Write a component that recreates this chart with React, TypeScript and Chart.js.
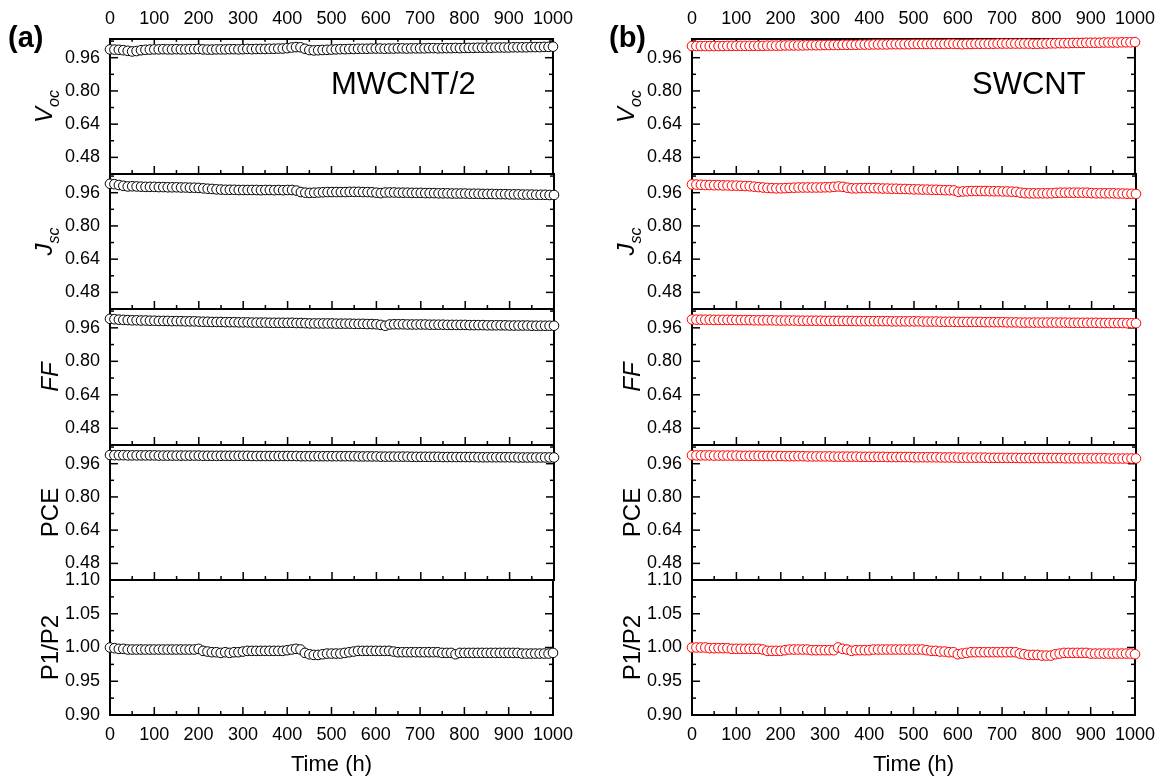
import React, { useEffect, useRef } from "react";
import { Chart, registerables } from "chart.js";
Chart.register(...registerables);

const TIME = [
  0, 10, 20, 30, 40, 50, 60, 70, 80, 90, 100, 110, 120, 130, 140, 150, 160, 170, 180, 190,
  200, 210, 220, 230, 240, 250, 260, 270, 280, 290, 300, 310, 320, 330, 340, 350, 360, 370, 380, 390,
  400, 410, 420, 430, 440, 450, 460, 470, 480, 490, 500, 510, 520, 530, 540, 550, 560, 570, 580, 590,
  600, 610, 620, 630, 640, 650, 660, 670, 680, 690, 700, 710, 720, 730, 740, 750, 760, 770, 780, 790,
  800, 810, 820, 830, 840, 850, 860, 870, 880, 890, 900, 910, 920, 930, 940, 950, 960, 970, 980, 990, 1000,
];

const X_MAJOR = [0, 100, 200, 300, 400, 500, 600, 700, 800, 900, 1000];
const X_MINOR = [50, 150, 250, 350, 450, 550, 650, 750, 850, 950];
const Y_MAJOR = [0.48, 0.64, 0.8, 0.96];
const Y_MINOR = [0.4, 0.56, 0.72, 0.88, 1.04];
const R_MAJOR = [0.9, 0.95, 1.0, 1.05, 1.1];
const R_MINOR = [0.925, 0.975, 1.025, 1.075];

const MW_VOC = [
  1.000, 0.999, 0.998, 0.996, 0.993, 0.990, 0.992, 0.996, 0.998, 0.999,
  1.000, 1.000, 1.001, 1.000, 1.000, 1.001, 1.000, 1.000, 1.001, 1.001,
  1.002, 1.000, 0.999, 0.999, 1.000, 1.000, 1.000, 1.001, 1.001, 1.000,
  1.001, 1.002, 1.001, 1.002, 1.002, 1.002, 1.003, 1.003, 1.004, 1.004,
  1.006, 1.009, 1.011, 1.010, 1.003, 0.997, 0.995, 0.996, 0.997, 0.998,
  0.999, 1.000, 1.001, 1.001, 1.002, 1.002, 1.003, 1.003, 1.003, 1.004,
  1.004, 1.004, 1.003, 1.004, 1.004, 1.005, 1.005, 1.004, 1.005, 1.005,
  1.005, 1.005, 1.006, 1.006, 1.005, 1.006, 1.006, 1.006, 1.007, 1.006,
  1.007, 1.007, 1.007, 1.008, 1.008, 1.008, 1.008, 1.009, 1.009, 1.009,
  1.009, 1.010, 1.010, 1.010, 1.010, 1.011, 1.011, 1.011, 1.012, 1.012, 1.013,
];
const MW_JSC = [
  1.003, 1.001, 0.997, 0.993, 0.990, 0.991, 0.990, 0.989, 0.988, 0.988,
  0.988, 0.987, 0.987, 0.986, 0.986, 0.986, 0.985, 0.985, 0.984, 0.984,
  0.983, 0.981, 0.979, 0.978, 0.976, 0.975, 0.974, 0.974, 0.974, 0.973,
  0.973, 0.973, 0.973, 0.973, 0.972, 0.973, 0.973, 0.972, 0.973, 0.972,
  0.973, 0.973, 0.970, 0.963, 0.960, 0.959, 0.960, 0.961, 0.962, 0.963,
  0.963, 0.963, 0.963, 0.963, 0.964, 0.964, 0.964, 0.963, 0.963, 0.962,
  0.960, 0.958, 0.961, 0.961, 0.961, 0.960, 0.960, 0.960, 0.959, 0.959,
  0.959, 0.958, 0.958, 0.958, 0.957, 0.957, 0.957, 0.956, 0.956, 0.956,
  0.956, 0.955, 0.955, 0.955, 0.954, 0.954, 0.954, 0.953, 0.953, 0.953,
  0.952, 0.952, 0.952, 0.951, 0.951, 0.951, 0.950, 0.950, 0.950, 0.949, 0.949,
];
const MW_FF = [
  1.003, 1.001, 0.999, 0.998, 0.997, 0.996, 0.996, 0.995, 0.995, 0.994,
  0.994, 0.993, 0.993, 0.993, 0.992, 0.992, 0.992, 0.991, 0.991, 0.991,
  0.990, 0.989, 0.989, 0.988, 0.988, 0.988, 0.987, 0.987, 0.987, 0.986,
  0.986, 0.986, 0.985, 0.985, 0.985, 0.985, 0.984, 0.984, 0.984, 0.984,
  0.984, 0.984, 0.983, 0.983, 0.982, 0.981, 0.981, 0.981, 0.981, 0.981,
  0.981, 0.980, 0.980, 0.980, 0.980, 0.979, 0.979, 0.979, 0.978, 0.978,
  0.977, 0.974, 0.970, 0.976, 0.977, 0.977, 0.977, 0.976, 0.976, 0.976,
  0.976, 0.976, 0.975, 0.975, 0.975, 0.975, 0.974, 0.974, 0.974, 0.974,
  0.974, 0.973, 0.973, 0.973, 0.973, 0.972, 0.972, 0.972, 0.972, 0.972,
  0.971, 0.971, 0.971, 0.971, 0.971, 0.970, 0.970, 0.970, 0.970, 0.970, 0.970,
];
const MW_PCE = [
  1.002, 1.001, 1.001, 1.001, 1.000, 1.000, 1.000, 1.000, 1.000, 1.000,
  1.000, 0.999, 0.999, 0.999, 0.999, 0.999, 0.999, 0.999, 0.999, 0.999,
  0.999, 0.998, 0.998, 0.998, 0.998, 0.998, 0.998, 0.998, 0.998, 0.998,
  0.998, 0.998, 0.997, 0.997, 0.997, 0.997, 0.997, 0.997, 0.997, 0.997,
  0.997, 0.997, 0.997, 0.996, 0.996, 0.996, 0.996, 0.996, 0.996, 0.996,
  0.996, 0.996, 0.996, 0.996, 0.996, 0.996, 0.995, 0.995, 0.995, 0.995,
  0.995, 0.994, 0.994, 0.994, 0.994, 0.994, 0.994, 0.994, 0.993, 0.993,
  0.993, 0.993, 0.993, 0.993, 0.993, 0.992, 0.992, 0.992, 0.992, 0.992,
  0.992, 0.992, 0.992, 0.991, 0.991, 0.991, 0.991, 0.991, 0.991, 0.991,
  0.991, 0.991, 0.990, 0.990, 0.990, 0.990, 0.990, 0.990, 0.990, 0.990, 0.990,
];
const MW_P12 = [
  1.000, 0.999, 0.998, 0.998, 0.997, 0.997, 0.997, 0.997, 0.997, 0.997,
  0.997, 0.997, 0.997, 0.997, 0.997, 0.997, 0.997, 0.997, 0.997, 0.997,
  0.998, 0.995, 0.994, 0.993, 0.993, 0.992, 0.993, 0.992, 0.993, 0.993,
  0.994, 0.995, 0.995, 0.995, 0.995, 0.995, 0.995, 0.995, 0.995, 0.995,
  0.996, 0.997, 0.998, 0.997, 0.992, 0.990, 0.989, 0.989, 0.990, 0.991,
  0.991, 0.991, 0.991, 0.992, 0.993, 0.994, 0.995, 0.995, 0.995, 0.995,
  0.995, 0.995, 0.995, 0.995, 0.994, 0.993, 0.993, 0.993, 0.993, 0.993,
  0.993, 0.993, 0.993, 0.993, 0.993, 0.992, 0.992, 0.992, 0.990, 0.992,
  0.992, 0.992, 0.992, 0.992, 0.992, 0.992, 0.992, 0.992, 0.992, 0.992,
  0.992, 0.992, 0.992, 0.991, 0.991, 0.991, 0.991, 0.991, 0.991, 0.991, 0.992,
];

const SW_VOC = [
  1.016, 1.016, 1.016, 1.016, 1.016, 1.016, 1.016, 1.016, 1.017, 1.017,
  1.017, 1.017, 1.017, 1.017, 1.017, 1.017, 1.017, 1.018, 1.018, 1.018,
  1.018, 1.019, 1.019, 1.019, 1.019, 1.019, 1.020, 1.020, 1.020, 1.020,
  1.021, 1.021, 1.021, 1.021, 1.022, 1.022, 1.022, 1.022, 1.023, 1.023,
  1.023, 1.024, 1.024, 1.024, 1.024, 1.025, 1.025, 1.025, 1.025, 1.025,
  1.026, 1.026, 1.026, 1.026, 1.026, 1.026, 1.026, 1.026, 1.027, 1.027,
  1.026, 1.025, 1.026, 1.026, 1.027, 1.027, 1.027, 1.027, 1.027, 1.028,
  1.028, 1.028, 1.028, 1.028, 1.028, 1.028, 1.028, 1.027, 1.027, 1.028,
  1.028, 1.029, 1.029, 1.030, 1.030, 1.030, 1.031, 1.031, 1.031, 1.032,
  1.032, 1.032, 1.032, 1.033, 1.033, 1.033, 1.033, 1.034, 1.034, 1.034, 1.035,
];
const SW_JSC = [
  1.000, 0.999, 0.998, 0.997, 0.997, 0.996, 0.996, 0.995, 0.995, 0.994,
  0.994, 0.993, 0.992, 0.991, 0.989, 0.987, 0.985, 0.983, 0.982, 0.981,
  0.981, 0.982, 0.983, 0.984, 0.985, 0.985, 0.985, 0.985, 0.985, 0.985,
  0.986, 0.986, 0.988, 0.990, 0.988, 0.984, 0.981, 0.981, 0.982, 0.982,
  0.982, 0.982, 0.981, 0.980, 0.980, 0.979, 0.979, 0.978, 0.978, 0.977,
  0.976, 0.976, 0.975, 0.975, 0.974, 0.974, 0.973, 0.972, 0.972, 0.971,
  0.964, 0.966, 0.967, 0.968, 0.968, 0.968, 0.968, 0.967, 0.967, 0.967,
  0.966, 0.966, 0.965, 0.964, 0.960, 0.958, 0.957, 0.957, 0.957, 0.957,
  0.957, 0.957, 0.959, 0.960, 0.960, 0.960, 0.960, 0.960, 0.960, 0.960,
  0.958, 0.957, 0.957, 0.957, 0.957, 0.957, 0.956, 0.956, 0.955, 0.955, 0.954,
];
const SW_FF = [
  1.000, 0.999, 0.999, 0.999, 0.999, 0.998, 0.998, 0.998, 0.998, 0.998,
  0.997, 0.997, 0.997, 0.997, 0.996, 0.996, 0.996, 0.996, 0.996, 0.995,
  0.995, 0.995, 0.995, 0.995, 0.994, 0.994, 0.994, 0.994, 0.994, 0.994,
  0.993, 0.993, 0.993, 0.993, 0.993, 0.993, 0.993, 0.992, 0.992, 0.992,
  0.992, 0.992, 0.992, 0.992, 0.992, 0.991, 0.991, 0.991, 0.991, 0.991,
  0.991, 0.991, 0.990, 0.990, 0.990, 0.990, 0.989, 0.989, 0.989, 0.989,
  0.988, 0.988, 0.988, 0.988, 0.988, 0.988, 0.987, 0.987, 0.987, 0.987,
  0.987, 0.986, 0.986, 0.986, 0.985, 0.985, 0.985, 0.985, 0.985, 0.985,
  0.985, 0.985, 0.985, 0.985, 0.985, 0.984, 0.984, 0.984, 0.984, 0.984,
  0.984, 0.984, 0.983, 0.983, 0.983, 0.983, 0.983, 0.983, 0.982, 0.982, 0.982,
];
const SW_PCE = [
  1.001, 1.000, 1.000, 1.000, 1.000, 0.999, 0.999, 0.999, 0.999, 0.999,
  0.999, 0.998, 0.998, 0.998, 0.998, 0.998, 0.997, 0.997, 0.997, 0.997,
  0.997, 0.996, 0.996, 0.996, 0.996, 0.996, 0.995, 0.995, 0.995, 0.995,
  0.995, 0.995, 0.994, 0.994, 0.994, 0.994, 0.994, 0.994, 0.993, 0.993,
  0.993, 0.993, 0.993, 0.993, 0.992, 0.992, 0.992, 0.992, 0.992, 0.992,
  0.991, 0.991, 0.991, 0.991, 0.991, 0.991, 0.990, 0.990, 0.990, 0.990,
  0.989, 0.989, 0.989, 0.989, 0.989, 0.989, 0.989, 0.988, 0.988, 0.988,
  0.988, 0.988, 0.988, 0.988, 0.987, 0.987, 0.987, 0.987, 0.987, 0.987,
  0.987, 0.987, 0.987, 0.987, 0.986, 0.986, 0.986, 0.986, 0.986, 0.986,
  0.986, 0.986, 0.986, 0.986, 0.985, 0.985, 0.985, 0.985, 0.985, 0.985, 0.985,
];
const SW_P12 = [
  1.000, 1.000, 1.000, 1.000, 0.999, 0.999, 0.999, 0.999, 0.999, 0.998,
  0.998, 0.998, 0.998, 0.998, 0.998, 0.998, 0.997, 0.995, 0.995, 0.995,
  0.995, 0.996, 0.997, 0.997, 0.997, 0.997, 0.997, 0.996, 0.996, 0.996,
  0.996, 0.996, 0.996, 1.000, 0.998, 0.997, 0.995, 0.996, 0.996, 0.996,
  0.996, 0.997, 0.997, 0.997, 0.997, 0.997, 0.997, 0.997, 0.997, 0.997,
  0.997, 0.997, 0.997, 0.996, 0.995, 0.995, 0.994, 0.994, 0.993, 0.993,
  0.990, 0.991, 0.992, 0.993, 0.993, 0.993, 0.993, 0.993, 0.993, 0.993,
  0.993, 0.993, 0.993, 0.993, 0.991, 0.990, 0.989, 0.989, 0.989, 0.988,
  0.988, 0.988, 0.990, 0.991, 0.992, 0.992, 0.992, 0.992, 0.992, 0.992,
  0.991, 0.991, 0.991, 0.991, 0.991, 0.991, 0.991, 0.991, 0.991, 0.991, 0.990,
];

type Part = { t: string; it: boolean; sub: boolean };
const TITLES: Part[][] = [
  [{ t: "V", it: true, sub: false }, { t: "oc", it: true, sub: true }],
  [{ t: "J", it: true, sub: false }, { t: "sc", it: true, sub: true }],
  [{ t: "FF", it: true, sub: false }],
  [{ t: "PCE", it: false, sub: false }],
  [{ t: "P1/P2", it: false, sub: false }],
];

const COLUMNS = [
  { letter: "(a)", name: "MWCNT/2", color: "#000000", series: [MW_VOC, MW_JSC, MW_FF, MW_PCE, MW_P12], letterX: 8, nameX: 331 },
  { letter: "(b)", name: "SWCNT", color: "#ff0000", series: [SW_VOC, SW_JSC, SW_FF, SW_PCE, SW_P12], letterX: 27, nameX: 390 },
];

const FONT = "'Liberation Sans', Arial, Helvetica, sans-serif";
const PANEL_TOPS = [39, 174, 309, 445, 580];
const PANEL_BOTTOM = 715;
const COL_LEFT = [0, 582];
const COL_W = 582;
const AXIS_W = 110;
const PAD_R = 28;
const EDGE = 26;
const PAGE_H = 784;

function Panel({ col, idx }: { col: number; idx: number }) {
  const ref = useRef<HTMLCanvasElement>(null);
  const top = PANEL_TOPS[idx];
  const bottom = idx < 4 ? PANEL_TOPS[idx + 1] : PANEL_BOTTOM;
  const cTop = idx === 0 ? 0 : top - EDGE;
  const cBottom = idx === 4 ? PAGE_H : bottom + EDGE;
  const h = cBottom - cTop;

  useEffect(() => {
    const info = COLUMNS[col];
    const values = info.series[idx];
    const isRatio = idx === 4;
    const yMajor = isRatio ? R_MAJOR : Y_MAJOR;
    const yMinor = isRatio ? R_MINOR : Y_MINOR;
    const showX = idx === 0 || idx === 4;

    const framePlugin = {
      id: "frame" + col + idx,
      beforeDatasetsDraw(chart: any) {
        const { ctx, chartArea } = chart;
        const { left, right, top: t, bottom: b } = chartArea;
        const xs = chart.scales.x;
        const ys = chart.scales.y;
        ctx.save();
        ctx.strokeStyle = "#000";
        ctx.lineWidth = 1.5;
        const seg = (x1: number, y1: number, x2: number, y2: number) => {
          ctx.beginPath();
          ctx.moveTo(x1, y1);
          ctx.lineTo(x2, y2);
          ctx.stroke();
        };
        const xt = (v: number, len: number) => {
          const p = xs.getPixelForValue(v);
          seg(p, b, p, b - len);
          if (idx === 0) seg(p, t, p, t + len * 0.7);
        };
        X_MAJOR.forEach((v) => xt(v, 8));
        X_MINOR.forEach((v) => xt(v, 4));
        const yt = (v: number, len: number) => {
          const p = ys.getPixelForValue(v);
          seg(left, p, left + len, p);
          seg(right, p, right - len, p);
        };
        yMajor.forEach((v) => yt(v, 8));
        yMinor.forEach((v) => yt(v, 4));
        ctx.lineWidth = 2;
        ctx.strokeRect(left, t, right - left, b - t);
        ctx.restore();
      },
      afterDraw(chart: any) {
        const { ctx, chartArea } = chart;
        const parts = TITLES[idx];
        const hasSub = parts.some((p) => p.sub);
        const bx = hasSub ? 52 : 58;
        const cy = (chartArea.top + chartArea.bottom) / 2;
        ctx.save();
        ctx.fillStyle = "#000";
        ctx.textBaseline = "alphabetic";
        ctx.textAlign = "left";
        const fontOf = (p: Part) => `${p.it ? "italic " : ""}${p.sub ? 16 : 24}px ${FONT}`;
        let total = 0;
        parts.forEach((p) => {
          ctx.font = fontOf(p);
          total += ctx.measureText(p.t).width;
        });
        ctx.translate(bx, cy);
        ctx.rotate(-Math.PI / 2);
        let cx = -total / 2;
        parts.forEach((p) => {
          ctx.font = fontOf(p);
          ctx.fillText(p.t, cx, p.sub ? 7 : 0);
          cx += ctx.measureText(p.t).width;
        });
        ctx.restore();
        if (idx === 0) {
          ctx.save();
          ctx.fillStyle = "#000";
          ctx.textAlign = "left";
          ctx.textBaseline = "alphabetic";
          ctx.font = `bold 29px ${FONT}`;
          ctx.fillText(info.letter, info.letterX, 47);
          ctx.font = `31px ${FONT}`;
          ctx.fillText(info.name, info.nameX, 94);
          ctx.restore();
        }
      },
    };

    const tickFont = { family: FONT, size: 18 };
    const chart = new Chart(ref.current as HTMLCanvasElement, {
      type: "scatter",
      data: {
        datasets: [
          {
            data: TIME.map((t, i) => ({ x: t, y: values[i] })),
            showLine: false,
            pointRadius: 4.8,
            pointHoverRadius: 4.8,
            pointBorderWidth: 1,
            pointBackgroundColor: "#ffffff",
            pointBorderColor: info.color,
            clip: false as any,
          },
        ],
      },
      options: {
        animation: false,
        responsive: false,
        events: [],
        layout: {
          padding: { left: 0, right: PAD_R, top: idx === 0 ? 0 : EDGE, bottom: idx === 4 ? 0 : EDGE },
        },
        plugins: { legend: { display: false }, tooltip: { enabled: false } },
        scales: {
          x: {
            type: "linear",
            position: idx === 0 ? "top" : "bottom",
            min: 0,
            max: 1000,
            display: showX,
            afterBuildTicks: (s: any) => {
              s.ticks = X_MAJOR.map((v) => ({ value: v }));
            },
            afterFit: (s: any) => {
              if (showX) s.height = idx === 0 ? 39 : 69;
            },
            grid: { display: false, drawTicks: false },
            border: { display: false },
            ticks: {
              font: tickFont,
              color: "#000",
              padding: idx === 0 ? 9 : 9,
              autoSkip: false,
              maxRotation: 0,
              callback: (v: any) => String(v),
            },
            title: {
              display: idx === 4,
              text: "Time (h)",
              color: "#000",
              font: { family: FONT, size: 22 },
              padding: { top: 0, bottom: 6 },
            },
          },
          y: {
            type: "linear",
            min: isRatio ? 0.9 : 0.4,
            max: isRatio ? 1.1 : 1.05,
            afterBuildTicks: (s: any) => {
              s.ticks = yMajor.map((v) => ({ value: v }));
            },
            afterFit: (s: any) => {
              s.width = AXIS_W;
            },
            grid: { display: false, drawTicks: false },
            border: { display: false },
            ticks: {
              font: tickFont,
              color: "#000",
              padding: 10,
              autoSkip: false,
              callback: (v: any) => Number(v).toFixed(2),
            },
          },
        },
      } as any,
      plugins: [framePlugin],
    });
    return () => chart.destroy();
  }, [col, idx]);

  return (
    <canvas
      ref={ref}
      width={COL_W}
      height={h}
      style={{ position: "absolute", left: COL_LEFT[col], top: cTop, width: COL_W, height: h }}
    />
  );
}

export default function App() {
  const panels = [];
  for (let c = 0; c < 2; c++) {
    for (let i = 0; i < 5; i++) {
      panels.push(<Panel key={`${c}-${i}`} col={c} idx={i} />);
    }
  }
  return (
    <div style={{ position: "absolute", left: 0, top: 0, width: 1164, height: 784, background: "#fff", overflow: "hidden" }}>
      {panels}
    </div>
  );
}
